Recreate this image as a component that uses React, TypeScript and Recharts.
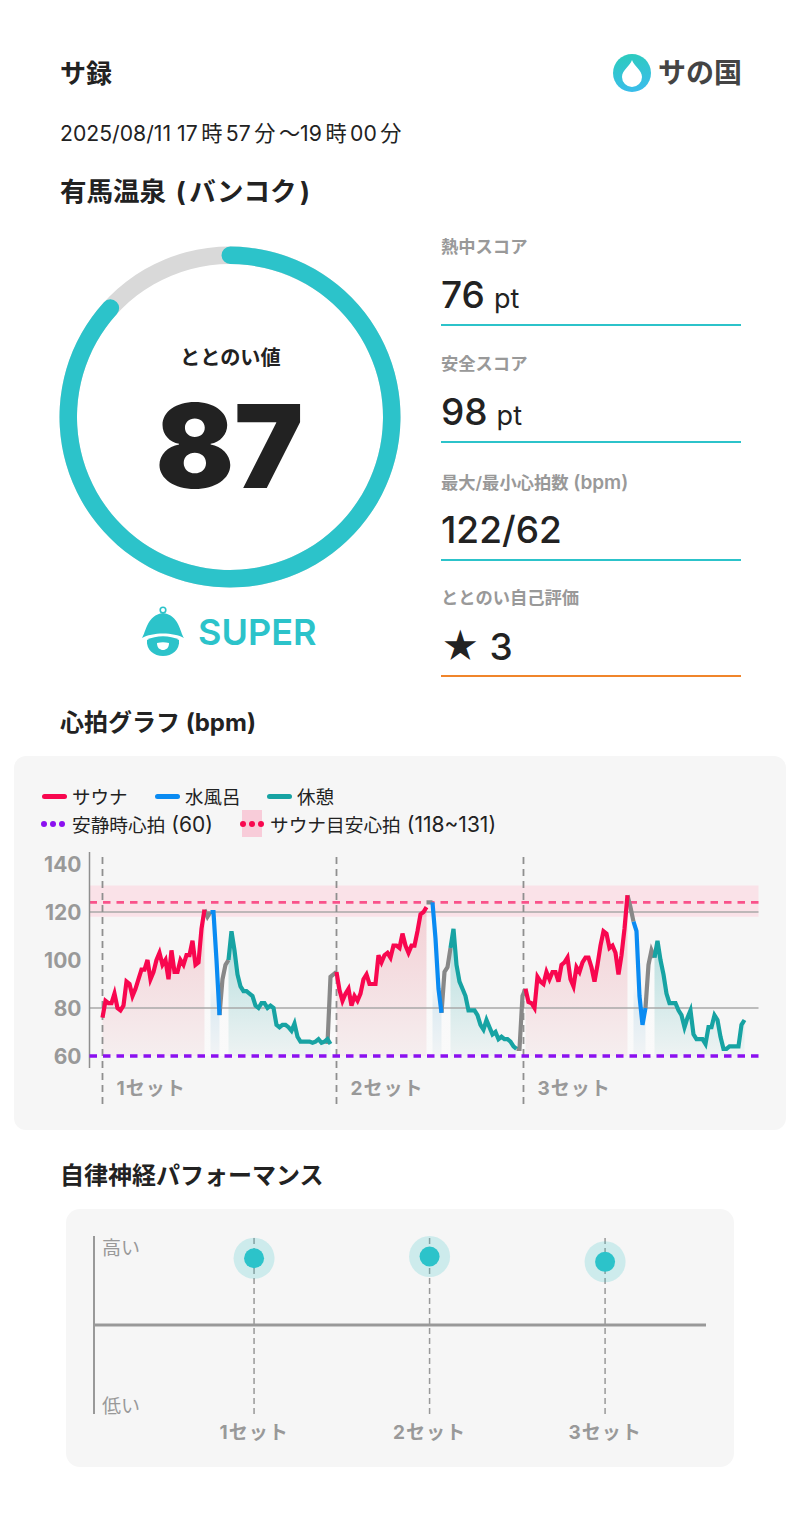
import React from 'react';
import {
  ComposedChart, LineChart, Line, Area, XAxis, YAxis, ReferenceLine, ReferenceArea, PieChart, Pie, Cell,
} from 'recharts';

const FONT = 'Inter, "Noto Sans CJK JP", sans-serif';
const TEAL = '#2cc3ca';
const GREY_TEXT = '#999999';

// one sample is about 18 seconds of the session
const sauna1 = [76, 83, 82, 82, 86, 80, 79, 81, 91, 90, 85, 88, 92, 96, 96, 100, 92, 95, 100, 103, 98, 100, 92, 104, 95, 95, 100, 98, 102, 102, 108, 98, 99, 113, 121];
const move1a = [121, 118, 120];
const water1 = [120, 120, 100, 77];
const move1b = [77, 92, 98, 100];
const rest1 = [100, 112, 104, 94, 89, 87, 87, 86, 85, 81, 80, 82, 82, 80, 81, 80, 73, 72, 73, 73, 72, 70.5, 73.5, 68, 66, 66, 66, 66, 65.5, 66, 67, 65.5, 66, 67, 65];
const move1c = [65, 93, 94, 95];
const sauna2 = [95, 87.5, 83, 86, 88, 81, 85, 83, 86, 92, 94, 90, 90, 90, 102, 99, 102, 103, 101, 106, 106, 105, 111, 106, 103, 106, 106, 112, 119, 120, 122];
const move2a = [124, 124, 124];
const water2 = [124, 109, 88, 78];
const move2b = [78, 95, 97, 105];
const rest2 = [105, 113, 98, 91, 88, 85, 79, 79, 79, 77, 73, 71, 75, 72, 69, 70, 67, 68, 67, 67, 66, 64, 63];
const move2c = [63, 63, 85, 88];
const sauna3 = [88, 82.5, 82, 80, 93, 91, 90, 95, 92, 95, 95, 91, 98, 99, 101, 92, 89, 97, 95, 99, 101, 101, 97, 91, 98, 106, 112, 111, 105, 106, 103, 94, 102, 113, 127];
const move3a = [127, 122, 116];
const water3 = [116, 112, 85, 73, 80];
const move3b = [80, 98, 104, 101];
const rest3 = [101, 108, 100, 94, 86, 82, 82, 82, 79, 77, 72, 76, 79, 69, 67, 67, 67, 65, 72, 72, 77, 75, 68, 63, 63, 64, 64, 64, 64, 73, 75];

const segments: [string, number, number[]][] = [
  ['sauna', 0, sauna1], ['move', 34, move1a], ['water', 36, water1], ['move', 39, move1b],
  ['rest', 42, rest1], ['move', 75, move1c],
  ['sauna', 78, sauna2], ['move', 108, move2a], ['water', 110, water2], ['move', 113, move2b],
  ['rest', 116, rest2], ['move', 138, move2c],
  ['sauna', 141, sauna3], ['move', 175, move3a], ['water', 177, water3], ['move', 181, move3b],
  ['rest', 184, rest3],
];

const heartRows: Record<string, number>[] = [];
segments.forEach(([key, start, values]) => {
  values.forEach((v, n) => {
    const i = start + n;
    if (!heartRows[i]) heartRows[i] = { i };
    heartRows[i][key] = v;
  });
});

const heartTicks = [60, 80, 100, 120, 140];
const setStarts = [0, 78, 140.33];
const setNames = ['1セット', '2セット', '3セット'];
const restingHr = 60;
const targetLow = 118;
const targetHigh = 131;
const targetMid = 124;
const guideLines = [80, 120];

const gaugeValue = 87;
const scoreRows = [
  { label: '熱中スコア', latin: '', value: '76', unit: 'pt', y: 246 },
  { label: '安全スコア', latin: '', value: '98', unit: 'pt', y: 363 },
  { label: '最大/最小心拍数', latin: ' (bpm)', value: '122/62', unit: '', y: 481 },
];

const perfSets = [1, 2, 3];
const perfValues = [75, 77, 71];
const perfRows = perfSets.map((set, n) => ({ set, value: perfValues[n] }));

const T = ({ x, y, size, weight = 400, color = '#222222', spacing = 0, children }: any) => (
  <div
    style={{
      position: 'absolute', left: x, top: y + 1, transform: 'translateY(-50%)', fontSize: size, fontWeight: weight,
      color, letterSpacing: spacing, lineHeight: 1, whiteSpace: 'nowrap', fontFamily: FONT,
    }}
  >
    {children}
  </div>
);

const Box = ({ x, y, w, h, color, radius = 0 }: any) => (
  <div style={{ position: 'absolute', left: x, top: y, width: w, height: h, background: color, borderRadius: radius }} />
);

const Dots = ({ x, y, color }: any) => (
  <>
    {[0, 9, 18].map((d) => (
      <Box key={d} x={x + d} y={y - 3} w={6} h={6} radius={3} color={color} />
    ))}
  </>
);

const Gap = ({ children }: any) => <span style={{ margin: '0 3.5px' }}>{children}</span>;
const Latin = ({ size, children }: any) => <span style={{ fontSize: size }}>{children}</span>;

const PerfDot = ({ cx, cy }: any) => (
  <g>
    <circle cx={cx} cy={cy} r={20.5} fill={TEAL} fillOpacity={0.2} />
    <circle cx={cx} cy={cy} r={10} fill={TEAL} />
  </g>
);

const SetLabel = (text: string) => (props: any) => {
  const { x, y, height } = props.viewBox;
  return (
    <text x={x + 14} y={y + height - 16} dy={7} fill={GREY_TEXT} fontSize={19} fontWeight={700} fontFamily={FONT} letterSpacing={1}>
      {text}
    </text>
  );
};

const App = () => {
  return (
    <div style={{ position: 'absolute', left: 0, top: 0, width: 800, height: 1522, background: '#ffffff', overflow: 'hidden', fontFamily: FONT }}>
      <T x={60} y={73} size={26} weight={700}>サ録</T>
      <svg style={{ position: 'absolute', left: 610, top: 50 }} width={46} height={46}>
        <defs>
          <linearGradient id="logoFill" x1="0.3" y1="0" x2="0.5" y2="1">
            <stop offset="0%" stopColor="#2ccbbd" />
            <stop offset="100%" stopColor="#3abdeb" />
          </linearGradient>
        </defs>
        <circle cx={22} cy={23} r={19} fill="url(#logoFill)" />
        <path d="M22 10 C24 16 32 20 32 27 A10 10 0 0 1 12 27 C12 20 20 16 22 10 Z" fill="#ffffff" />
      </svg>
      <T x={658} y={72} size={28} weight={700} color="#444444">サの国</T>

      <T x={60} y={133} size={21.2} color="#222222">
        2025/08/11 17<Gap>時</Gap>57<Gap>分</Gap>〜19<Gap>時</Gap>00<Gap>分</Gap>
      </T>
      <T x={60} y={190} size={26.5} weight={700}>
        有馬温泉 <Gap>(</Gap>バンコク<Gap>)</Gap>
      </T>

      <div style={{ position: 'absolute', left: 29.5, top: 217 }}>
        <PieChart width={400} height={400} margin={{ top: 0, right: 0, bottom: 0, left: 0 }}>
          <Pie data={[{ value: 100 }]} dataKey="value" cx={200} cy={200} innerRadius={153} outerRadius={170.5} startAngle={90} endAngle={-270} stroke="none" fill="#d9d9d9" isAnimationActive={false} />
          <Pie data={[{ value: gaugeValue }]} dataKey="value" cx={200} cy={200} innerRadius={153} outerRadius={170.5} startAngle={93} endAngle={93 - gaugeValue * 3.66} cornerRadius={8.7} stroke="none" isAnimationActive={false}>
            <Cell fill={TEAL} />
          </Pie>
        </PieChart>
      </div>
      <T x={180} y={357} size={20.2} weight={700}>ととのい値</T>
      <T x={155.5} y={445} size={116} weight={900} color="#222222">87</T>

      <svg style={{ position: 'absolute', left: 136, top: 602 }} width={54} height={58}>
        <circle cx={27} cy={8} r={2.8} fill="none" stroke={TEAL} strokeWidth={1.6} />
        <path d="M6 36 C10 30 11 13 27 11 C43 13 44 30 48 36 C38 30 16 30 6 36 Z" fill={TEAL} />
        <path d="M11 38 C20 33 34 33 43 38 C44 48 36 54 27 54 C18 54 10 48 11 38 Z" fill={TEAL} />
        <path d="M21 41 C25 40 29 40 33 41 C33 46 30 48 27 48 C24 48 21 46 21 41 Z" fill="#ffffff" />
      </svg>
      <T x={198} y={631} size={36} weight={600} color={TEAL}>SUPER</T>

      {scoreRows.map((r) => (
        <React.Fragment key={r.label}>
          <T x={441} y={r.y} size={17.3} weight={600} color={GREY_TEXT}>
            {r.label}
            {r.latin && <Latin size={19}>{r.latin}</Latin>}
          </T>
          <T x={441} y={r.y + 47} size={37} weight={500}>
            {r.value}
            {r.unit && <span style={{ fontSize: 27, fontWeight: 400, marginLeft: 9 }}>{r.unit}</span>}
          </T>
          <Box x={441} y={r.y + 78} w={300} h={1.5} color={TEAL} />
        </React.Fragment>
      ))}
      <T x={441} y={597} size={17.3} weight={600} color={GREY_TEXT}>ととのい自己評価</T>
      <T x={441} y={645} size={37} weight={500}>★ 3</T>
      <Box x={441} y={675} w={300} h={1.5} color="#f0852b" />

      <T x={60} y={722} size={24} weight={700}>心拍グラフ (bpm)</T>
      <Box x={14} y={756} w={772} h={374} radius={12} color="#f6f6f6" />

      <Box x={42} y={794} w={25} h={5} radius={3} color="#f8074f" />
      <T x={72} y={796} size={18.5}>サウナ</T>
      <Box x={155} y={794} w={25} h={5} radius={3} color="#0a8bf2" />
      <T x={185} y={796} size={18.5}>水風呂</T>
      <Box x={267} y={794} w={25} h={5} radius={3} color="#17a3a3" />
      <T x={297} y={796} size={18.5}>休憩</T>
      <Dots x={41} y={824} color="#8b10f0" />
      <T x={72} y={824} size={18.7}>安静時心拍<Latin size={21}> (60)</Latin></T>
      <Box x={242} y={810} w={20} h={27} color="#f8ccd9" />
      <Dots x={240} y={824} color="#f8074f" />
      <T x={270} y={824} size={18.7}>サウナ目安心拍<Latin size={21}> (118~131)</Latin></T>

      <div style={{ position: 'absolute', left: 14, top: 756 }}>
        <ComposedChart width={772} height={374} data={heartRows} margin={{ top: 96, right: 27.5, bottom: 26, left: 0 }}>
          <defs>
            <linearGradient id="saunaFill" x1="0" y1="0" x2="0" y2="1">
              <stop offset="0%" stopColor="#ec6f80" stopOpacity={0.5} />
              <stop offset="100%" stopColor="#ec6f80" stopOpacity={0.1} />
            </linearGradient>
            <linearGradient id="waterFill" x1="0" y1="0" x2="0" y2="1">
              <stop offset="55%" stopColor="#4aa8dc" stopOpacity={0} />
              <stop offset="70%" stopColor="#4aa8dc" stopOpacity={0.22} />
              <stop offset="100%" stopColor="#4aa8dc" stopOpacity={0.04} />
            </linearGradient>
            <linearGradient id="restFill" x1="0" y1="0" x2="0" y2="1">
              <stop offset="0%" stopColor="#17a3a3" stopOpacity={0.5} />
              <stop offset="100%" stopColor="#17a3a3" stopOpacity={0.06} />
            </linearGradient>
            <linearGradient id="moveFill" x1="0" y1="0" x2="0" y2="1">
              <stop offset="0%" stopColor="#ffffff" stopOpacity={0.5} />
              <stop offset="100%" stopColor="#ffffff" stopOpacity={0.7} />
            </linearGradient>
          </defs>
          <XAxis dataKey="i" type="number" domain={[-4.33, 218.67]} allowDataOverflow hide />
          <YAxis
            type="number"
            domain={[40, 145]}
            ticks={heartTicks}
            width={75.5}
            axisLine={false}
            tickLine={false}
            interval={0}
            tick={{ fill: GREY_TEXT, fontSize: 21, fontWeight: 700, fontFamily: FONT, dy: 1 }}
          />
          <ReferenceArea y1={targetLow} y2={targetHigh} fill="#fae2e8" fillOpacity={1} stroke="none" />
          {guideLines.map((v) => (
            <ReferenceLine key={v} y={v} stroke="#a8a8a8" strokeWidth={1.5} />
          ))}
          <Area dataKey="move" type="linear" baseValue={restingHr} stroke="none" fill="url(#moveFill)" dot={false} activeDot={false} isAnimationActive={false} />
          <Area dataKey="sauna" type="linear" baseValue={restingHr} stroke="none" fill="url(#saunaFill)" dot={false} activeDot={false} isAnimationActive={false} />
          <Area dataKey="water" type="linear" baseValue={restingHr} stroke="none" fill="url(#waterFill)" dot={false} activeDot={false} isAnimationActive={false} />
          <Area dataKey="rest" type="linear" baseValue={restingHr} stroke="none" fill="url(#restFill)" dot={false} activeDot={false} isAnimationActive={false} />
          <ReferenceLine y={targetMid} stroke="#f9528a" strokeWidth={2.8} strokeDasharray="7.5 6" />
          {setStarts.map((s, n) => (
            <ReferenceLine key={s} x={s} stroke="#8f8f8f" strokeWidth={1.8} strokeDasharray="7 5" label={SetLabel(setNames[n])} />
          ))}
          <ReferenceLine segment={[{ x: -4.33, y: 145 }, { x: -4.33, y: 55 }]} stroke="#8f8f8f" strokeWidth={1.5} ifOverflow="visible" />
          <Line dataKey="move" type="linear" stroke="#888888" strokeWidth={4.2} dot={false} activeDot={false} isAnimationActive={false} />
          <Line dataKey="sauna" type="linear" stroke="#f8074f" strokeWidth={4.2} dot={false} activeDot={false} isAnimationActive={false} />
          <Line dataKey="water" type="linear" stroke="#0a8bf2" strokeWidth={4.2} dot={false} activeDot={false} isAnimationActive={false} />
          <Line dataKey="rest" type="linear" stroke="#17a3a3" strokeWidth={4.2} dot={false} activeDot={false} isAnimationActive={false} />
          <ReferenceLine y={restingHr} stroke="#8b10f0" strokeWidth={3.4} strokeDasharray="7.5 6" />
        </ComposedChart>
      </div>

      <T x={60} y={1175} size={24} weight={700}>自律神経パフォーマンス</T>
      <Box x={66} y={1209} w={668} h={258} radius={14} color="#f6f6f6" />
      <div style={{ position: 'absolute', left: 66, top: 1209 }}>
        <LineChart width={668} height={258} data={perfRows} margin={{ top: 27, right: 28, bottom: 0, left: 28 }}>
          <XAxis
            dataKey="set"
            type="number"
            domain={[0.088, 3.575]}
            ticks={perfSets}
            height={53}
            axisLine={false}
            tickLine={false}
            tickMargin={6}
            tickFormatter={(v: number) => `${v}セット`}
            tick={{ fill: GREY_TEXT, fontSize: 19, fontWeight: 700, fontFamily: FONT, letterSpacing: 1 }}
          />
          <YAxis
            type="number"
            domain={[-100, 100]}
            ticks={[-91, 86]}
            mirror
            interval={0}
            tickLine={false}
            axisLine={{ stroke: '#999999', strokeWidth: 2 }}
            tickMargin={2}
            tickFormatter={(v: number) => (v > 0 ? '高い' : '低い')}
            tick={{ fill: GREY_TEXT, fontSize: 19, fontFamily: FONT }}
          />
          <ReferenceLine y={0} stroke="#999999" strokeWidth={3} />
          {perfSets.map((s) => (
            <ReferenceLine key={s} x={s} stroke="#999999" strokeWidth={1.5} strokeDasharray="6 4" />
          ))}
          <Line dataKey="value" stroke="none" dot={<PerfDot />} activeDot={false} isAnimationActive={false} />
        </LineChart>
      </div>
    </div>
  );
};

export default App;
